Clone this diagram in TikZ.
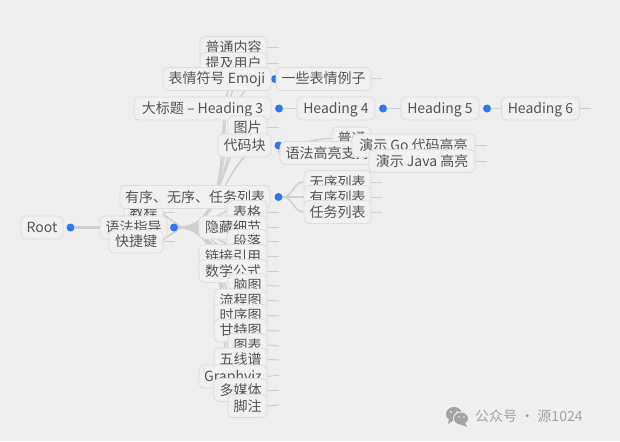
\documentclass[tikz,border=0pt]{standalone}
\usepackage{fontspec}
\setmainfont{Noto Sans CJK SC}
\usetikzlibrary{backgrounds}
\definecolor{pagebg}{HTML}{EFEFEF}
\definecolor{boxbg}{HTML}{F1F1F2}
\definecolor{boxline}{HTML}{DCDDE0}
\definecolor{linkgray}{HTML}{CFD0D2}
\definecolor{dotblue}{HTML}{2F76F0}
\definecolor{textgray}{HTML}{555555}
\definecolor{markgray}{HTML}{A3A3A3}
\tikzset{
  box/.style={draw=boxline, fill=boxbg, line width=0.8pt, rounded corners=5pt, minimum height=23pt,
    inner sep=0pt, text height=12pt, text depth=2pt, text=textgray, font=\fontsize{14}{16}\selectfont},
  dot/.style={circle, fill=dotblue, inner sep=0pt, minimum size=8pt},
  link/.style={draw=linkgray, line width=1.5pt, out=0, in=180, looseness=1},
  fatlink/.style={link, line width=3pt},
  stub/.style={draw=linkgray, line width=1pt}
}
\begin{document}
\begin{tikzpicture}[x=1pt, y=-1pt]
\useasboundingbox (0,0) rectangle (620,441);
\node[box, minimum width=42pt] (root) at (42,227.5) {Root};
\node[dot] (rootDot) at (70.5,227.5) {};
% upper branch
\node[box, minimum width=67pt] (plain) at (233.5,48) {普通内容};
\node[box, minimum width=67pt] (mention) at (233.5,64) {提及用户};
\node[dot] (emojiDot) at (275,79) {};
\node[box, minimum width=108pt] (emoji) at (217,79) {表情符号 Emoji};
\node[box, minimum width=137pt] (heading) at (202.5,108.5) {大标题 – Heading 3};
\node[dot] (headingDot) at (279,108.5) {};
\node[box, minimum width=39pt] (image) at (247.5,127.5) {图片};
\node[box, minimum width=53pt] (code) at (244.5,145.5) {代码块};
\node[dot] (codeDot) at (278.5,145.5) {};
\node[box, minimum width=95pt] (emojiSample) at (323.5,79) {一些表情例子};
\node[box, minimum width=78pt] (headingFour) at (336,108.5) {Heading 4};
\node[dot] (headingFourDot) at (383,108.5) {};
\node[box, minimum width=78pt] (headingFive) at (440,108.5) {Heading 5};
\node[dot] (headingFiveDot) at (487,108.5) {};
\node[box, minimum width=78pt] (headingSix) at (540.5,108.5) {Heading 6};
\node[box, minimum width=39pt] (codePlain) at (351.5,138.5) {普通};
\node[box, minimum width=95pt] (codeSyntax) at (327.5,153) {语法高亮支持};
\node[box, minimum width=123pt] (codeGo) at (413.5,145.5) {演示 Go 代码高亮};
\node[box, minimum width=106pt] (codeJava) at (422,161) {演示 Java 高亮};
% middle branch
\node[box, minimum width=39pt] (tutorial) at (143.5,212) {教程};
\node[box, minimum width=150pt] (lists) at (195,197) {有序、无序、任务列表};
\node[dot] (listsDot) at (278.5,197) {};
\node[box, minimum width=67pt] (unordered) at (337.5,182) {无序列表};
\node[box, minimum width=67pt] (ordered) at (337.5,197) {有序列表};
\node[box, minimum width=67pt] (tasks) at (337.5,212) {任务列表};
\node[box, minimum width=40pt] (table) at (247,212) {表格};
\node[box, minimum width=67pt] (guide) at (133.5,227.5) {语法指导};
\node[dot] (guideDot) at (174,227.5) {};
\node[box, minimum width=54pt] (keys) at (136,241.5) {快捷键};
\node[box, minimum width=68pt] (details) at (233,227.5) {隐藏细节};
\node[box, minimum width=40pt] (para) at (247,241) {段落};
\node[box, minimum width=68pt] (linkref) at (233,256) {链接引用};
\node[box, minimum width=68pt] (math) at (233,271) {数学公式};
% lower branch
\node[box, minimum width=39pt] (mind) at (247.5,285.5) {脑图};
\node[box, minimum width=53pt] (flow) at (240.5,300.5) {流程图};
\node[box, minimum width=53pt] (sequence) at (240.5,315.5) {时序图};
\node[box, minimum width=53pt] (gantt) at (240.5,330.5) {甘特图};
\node[box, minimum width=39pt] (chart) at (247.5,345) {图表};
\node[box, minimum width=53pt] (score) at (240.5,359.5) {五线谱};
\node[box, minimum width=68pt] (graphviz) at (233,376.5) {Graphviz};
\node[box, minimum width=53pt] (media) at (240.5,390) {多媒体};
\node[box, minimum width=39pt] (notes) at (247.5,406) {脚注};
% free ends of the short lines
\coordinate (plainEnd) at (279,48);
\coordinate (mentionEnd) at (279,64);
\coordinate (imageEnd) at (279,127.5);
\coordinate (sampleEnd) at (382,79);
\coordinate (sixEnd) at (591,108.5);
\coordinate (goEnd) at (487,145.5);
\coordinate (javaEnd) at (487,161);
\coordinate (tutorialEnd) at (175,212);
\coordinate (keysEnd) at (175,241.5);
\coordinate (unorderedEnd) at (382,182);
\coordinate (orderedEnd) at (382,197);
\coordinate (tasksEnd) at (382,212);
\coordinate (tableEnd) at (279,212);
\coordinate (detailsEnd) at (279,227.5);
\coordinate (paraEnd) at (279,241);
\coordinate (linkrefEnd) at (279,256);
\coordinate (mathEnd) at (279,271);
\coordinate (mindEnd) at (279,286);
\coordinate (flowEnd) at (279,301);
\coordinate (sequenceEnd) at (279,316);
\coordinate (ganttEnd) at (279,331);
\coordinate (chartEnd) at (279,346);
\coordinate (scoreEnd) at (279,360);
\coordinate (graphvizEnd) at (279,375);
\coordinate (mediaEnd) at (279,390);
\coordinate (notesEnd) at (279,405);
\begin{scope}[on background layer]
\fill[pagebg] (0,0) rectangle (620,441);
\draw[fatlink] (rootDot) to (guide.west);
\draw[link] (guideDot) to (plain.east);
\draw[link] (guideDot) to (mention.east);
\draw[link] (guideDot) to (emoji.east);
\draw[link] (guideDot) to (heading.east);
\draw[link] (guideDot) to (image.east);
\draw[link] (guideDot) to (code.east);
\draw[link] (guideDot) to (lists.east);
\draw[link] (guideDot) to (table.east);
\draw[link] (guideDot) to (details.east);
\draw[link] (guideDot) to (para.east);
\draw[link] (guideDot) to (linkref.east);
\draw[link] (guideDot) to (math.east);
\draw[link] (guideDot) to (mind.east);
\draw[link] (guideDot) to (flow.east);
\draw[link] (guideDot) to (sequence.east);
\draw[link] (guideDot) to (gantt.east);
\draw[link] (guideDot) to (chart.east);
\draw[link] (guideDot) to (score.east);
\draw[link] (guideDot) to (graphviz.east);
\draw[link] (guideDot) to (media.east);
\draw[link] (guideDot) to (notes.east);
\draw[link] (guideDot) to (tutorial.east);
\draw[link] (guideDot) to (keys.east);
\draw[link] (listsDot) to (unordered.west);
\draw[link] (listsDot) to (ordered.west);
\draw[link] (listsDot) to (tasks.west);
\draw[link] (headingDot) to (headingFour.west);
\draw[link] (headingFourDot) to (headingFive.west);
\draw[link] (headingFiveDot) to (headingSix.west);
\draw[link] (emojiDot) to (emojiSample.west);
\draw[link] (codeDot) to (codeSyntax.west);
\draw[link] (codeDot) to (codePlain.west);
\draw[stub] (plain.east) -- (plainEnd);
\draw[stub] (mention.east) -- (mentionEnd);
\draw[stub] (image.east) -- (imageEnd);
\draw[stub] (emojiSample.east) -- (sampleEnd);
\draw[stub] (headingSix.east) -- (sixEnd);
\draw[stub] (codeGo.east) -- (goEnd);
\draw[stub] (codeJava.east) -- (javaEnd);
\draw[stub] (tutorial.east) -- (tutorialEnd);
\draw[stub] (keys.east) -- (keysEnd);
\draw[stub] (unordered.east) -- (unorderedEnd);
\draw[stub] (ordered.east) -- (orderedEnd);
\draw[stub] (tasks.east) -- (tasksEnd);
\draw[stub] (table.east) -- (tableEnd);
\draw[stub] (details.east) -- (detailsEnd);
\draw[stub] (para.east) -- (paraEnd);
\draw[stub] (linkref.east) -- (linkrefEnd);
\draw[stub] (math.east) -- (mathEnd);
\draw[stub] (mind.east) -- (mindEnd);
\draw[stub] (flow.east) -- (flowEnd);
\draw[stub] (sequence.east) -- (sequenceEnd);
\draw[stub] (gantt.east) -- (ganttEnd);
\draw[stub] (chart.east) -- (chartEnd);
\draw[stub] (score.east) -- (scoreEnd);
\draw[stub] (graphviz.east) -- (graphvizEnd);
\draw[stub] (media.east) -- (mediaEnd);
\draw[stub] (notes.east) -- (notesEnd);
\end{scope}
% mark at the lower right
\fill[markgray] (454,414) ellipse (8pt and 7pt);
\fill[markgray] (449,419) -- (448,424) -- (454,420) -- cycle;
\fill[pagebg] (461,418.5) ellipse (8pt and 7pt);
\fill[markgray] (461,418.5) ellipse (7pt and 6pt);
\fill[markgray] (465,423) -- (467,427) -- (460,424) -- cycle;
\fill[pagebg] (451,412) circle (1pt);
\fill[pagebg] (457,412) circle (1pt);
\fill[pagebg] (459,417) circle (0.8pt);
\fill[pagebg] (464,417) circle (0.8pt);
\node[text=markgray, font=\fontsize{14}{16}\selectfont, inner sep=0pt, anchor=west] (mark) at (475,416) {公众号 · 源1024};
\end{tikzpicture}
\end{document}
